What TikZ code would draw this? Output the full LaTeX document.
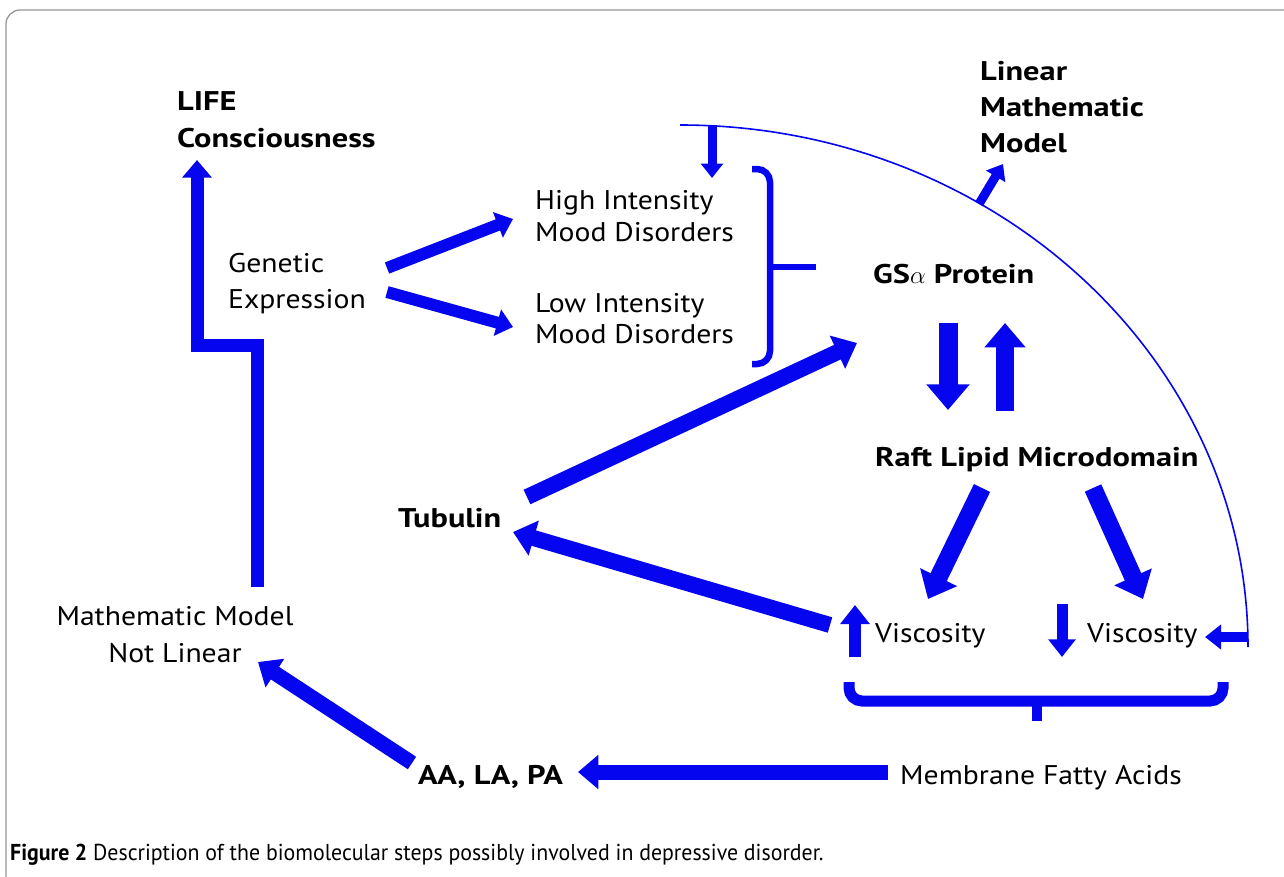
\documentclass[tikz,border=0pt]{standalone}
\usepackage{fontspec}
\setmainfont{PT Sans}[FakeStretch=1.1, BoldFeatures={FakeStretch=1.2}]
\newfontfamily\capfont{PT Sans}[FakeStretch=0.95, BoldFeatures={FakeStretch=0.95}]
\usetikzlibrary{arrows.meta}
\definecolor{ablue}{RGB}{5,5,240}
\definecolor{framegray}{RGB}{150,150,150}
\tikzset{
  txt/.style={inner sep=0pt, anchor=base west, font=\fontsize{27}{32}\selectfont},
  btxt/.style={inner sep=0pt, anchor=base west, font=\fontsize{27}{32}\selectfont\bfseries},
  barrow/.style={draw=ablue, line width=#1, line join=miter, -{Triangle[width=0pt 2.2, length=0pt 1.35]}},
  sarrow/.style={draw=ablue, line width=#1, -{Triangle[width=0pt 2.4, length=0pt 1.6]}},
  bracketline/.style={draw=ablue, line width=#1, rounded corners=13pt},
}
\begin{document}
\begin{tikzpicture}[x=1pt,y=-1pt]
\useasboundingbox (0,0) rectangle (1284,876);
\fill[white] (0,0) rectangle (1284,876);
% frame
\draw[framegray, line width=1.3pt, rounded corners=14pt] (1300,10) -- (6,10) -- (6,900);

% texts
\node[btxt] (life) at (177,110) {LIFE};
\node[btxt] (cons) at (177,147) {Consciousness};
\node[txt] (gen) at (228,272) {Genetic};
\node[txt] (expr) at (228,308) {Expression};
\node[txt] (hi1) at (535,209) {High Intensity};
\node[txt] (hi2) at (535,241) {Mood Disorders};
\node[txt] (lo1) at (535,312) {Low Intensity};
\node[txt] (lo2) at (535,343) {Mood Disorders};
\node[btxt] (lin1) at (980,80) {Linear};
\node[btxt] (lin2) at (980,116) {Mathematic};
\node[btxt] (lin3) at (980,152) {Model};
\node[btxt] (gs) at (873,283) {GS$\alpha$ Protein};
\node[btxt] (raft) at (875,466) {Raft Lipid Microdomain};
\node[btxt] (tub) at (398,527) {Tubulin};
\node[txt] (visc1) at (875,642) {Viscosity};
\node[txt] (visc2) at (1087,642) {Viscosity};
\node[txt, anchor=base] (mm1) at (175,625) {Mathematic Model};
\node[txt, anchor=base] (mm2) at (175,662) {Not Linear};
\node[btxt] (aa) at (418,784) {AA, LA, PA};
\node[txt] (mfa) at (900,784) {Membrane Fatty Acids};
\node[inner sep=0pt, anchor=base west, font=\capfont\fontsize{23}{26}\selectfont] (cap) at (10,860) {\textbf{Figure 2} Description of the biomolecular steps possibly involved in depressive disorder.};

% coordinates for connector ends
\coordinate (lbot) at (257,587);
\coordinate (lmid1) at (257,345);
\coordinate (lmid2) at (197,345);
\coordinate (ltop) at (197,160);
\coordinate (g1) at (387,268); \coordinate (hiin) at (513,219);
\coordinate (g2) at (387,292); \coordinate (loin) at (513,327);
\coordinate (arcstart) at (680,125);
\coordinate (topin) at (712,178);
\coordinate (arcT) at (712,125);
\coordinate (arcL) at (979,204); \coordinate (linin) at (1003,164);
\coordinate (arcend) at (1248,647);
\coordinate (arcR) at (1248,637); \coordinate (v2in) at (1205,637);
\coordinate (gsd1) at (948,323); \coordinate (gsd2) at (948,410);
\coordinate (gsu1) at (1005,411); \coordinate (gsu2) at (1005,323);
\coordinate (tubout) at (527,497); \coordinate (gsin) at (857,343);
\coordinate (v1out) at (830,625); \coordinate (tubin) at (513,532);
\coordinate (raftL) at (982,488); \coordinate (v1top) at (928,599);
\coordinate (raftR) at (1093,488); \coordinate (v2top) at (1143,599);
\coordinate (up1) at (855,657); \coordinate (up2) at (855,605);
\coordinate (dn1) at (1062,604); \coordinate (dn2) at (1062,657);
\coordinate (mfaout) at (888,772); \coordinate (aain) at (578,772);
\coordinate (aaout) at (412,763); \coordinate (mmin) at (258,662);

% L-shaped arrow
\draw[barrow=13pt] (lbot) -- (lmid1) -- (lmid2) -- (ltop);
% genetic expression arrows
\draw[barrow=12pt] (g1) -- (hiin);
\draw[barrow=12pt] (g2) -- (loin);
% top bracket
\draw[bracketline=6.5pt] (752,169) -- (770,169) -- (770,364) -- (752,364);
\draw[draw=ablue, line width=6.5pt] (770,267) -- (816,267);
% thin arc
\draw[ablue, line width=1.6pt] (arcstart) arc[start angle=-90, end angle=0, x radius=568, y radius=522];
\draw[sarrow=9pt] (arcT) -- (topin);
\draw[sarrow=9pt] (arcL) -- (linin);
\draw[sarrow=10pt] (arcR) -- (v2in);
% GS <-> raft
\draw[barrow=19pt] (gsd1) -- (gsd2);
\draw[barrow=18pt] (gsu1) -- (gsu2);
% tubulin
\draw[barrow=16pt] (tubout) -- (gsin);
\draw[barrow=16pt] (v1out) -- (tubin);
% raft to viscosity
\draw[barrow=18pt] (raftL) -- (v1top);
\draw[barrow=18pt] (raftR) -- (v2top);
% viscosity small arrows
\draw[sarrow=12pt] (up1) -- (up2);
\draw[sarrow=11pt] (dn1) -- (dn2);
% bottom brace
\draw[bracketline=11pt] (849,682) -- (849,701) -- (1223,701) -- (1223,682);
\draw[draw=ablue, line width=10pt] (1037,701) -- (1037,721);
% bottom arrows
\draw[barrow=15pt] (mfaout) -- (aain);
\draw[barrow=15pt] (aaout) -- (mmin);
\end{tikzpicture}
\end{document}
